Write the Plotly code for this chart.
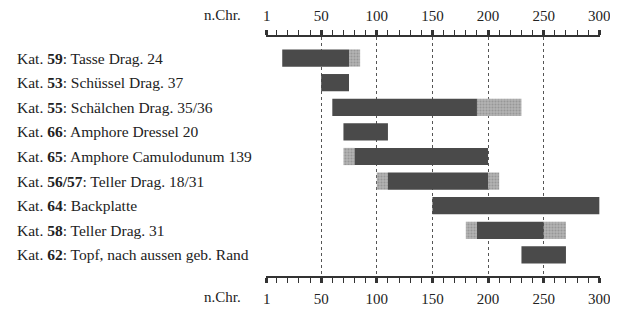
import plotly.graph_objects as go

kat_numbers = ["59", "53", "55", "66", "65", "56/57", "64", "58", "62"]
kat_names = ["Tasse Drag. 24", "Schüssel Drag. 37", "Schälchen Drag. 35/36",
             "Amphore Dressel 20", "Amphore Camulodunum 139", "Teller Drag. 18/31",
             "Backplatte", "Teller Drag. 31", "Topf, nach aussen geb. Rand"]
dark_start = [15, 50, 60, 70, 80, 110, 150, 190, 230]
dark_end = [75, 75, 190, 110, 200, 200, 300, 250, 270]
gray_before_start = [None, None, None, None, 70, 100, None, 180, None]
gray_after_end = [85, None, 230, None, None, 210, None, 270, None]
tick_values = [1, 50, 100, 150, 200, 250, 300]
tick_labels = ["1", "50", "100", "150", "200", "250", "300"]
minor_ticks = [v for v in range(10, 300, 10) if v % 50 != 0]
axis_title = "n.Chr."

cats = [f"Kat. {n}" for n in kat_numbers]
DARK = "#4a4a4a"
LIGHT = "#a6a6a6"
FONT = "Liberation Serif"

fig = go.Figure()

gb_y, gb_base, gb_len = [], [], []
ga_y, ga_base, ga_len = [], [], []
for c, ds, de, gs, ge in zip(cats, dark_start, dark_end, gray_before_start, gray_after_end):
    if gs is not None:
        gb_y.append(c); gb_base.append(gs); gb_len.append(ds - gs)
    if ge is not None:
        ga_y.append(c); ga_base.append(de); ga_len.append(ge - de)

bar_w = 0.7
pat = dict(shape=".", fgcolor="#7a7a7a", bgcolor="#b4b4b4", size=3, solidity=0.4)
fig.add_trace(go.Bar(y=gb_y, x=gb_len, base=gb_base, orientation="h", width=bar_w,
                     marker=dict(color=LIGHT, line=dict(width=0), pattern=pat),
                     showlegend=False))
fig.add_trace(go.Bar(y=ga_y, x=ga_len, base=ga_base, orientation="h", width=bar_w,
                     marker=dict(color=LIGHT, line=dict(width=0), pattern=pat),
                     showlegend=False))
fig.add_trace(go.Bar(y=cats, x=[e - s for s, e in zip(dark_start, dark_end)], base=dark_start,
                     orientation="h", width=bar_w,
                     marker=dict(color=DARK, line=dict(width=0)), showlegend=False))
fig.add_trace(go.Scatter(x=[1, 300], y=[cats[0], cats[0]], xaxis="x2", mode="markers",
                         marker=dict(opacity=0), showlegend=False, hoverinfo="skip"))

x_range = [0.4, 300.6]
axis_common = dict(range=x_range, tickmode="array", tickvals=tick_values, ticktext=tick_labels,
                   ticks="outside", ticklen=5, tickwidth=3, tickcolor="#333",
                   showline=True, linecolor="#333", linewidth=1.5,
                   tickfont=dict(family=FONT, size=15, color="#222"),
                   minor=dict(tickmode="array", tickvals=minor_ticks, ticks="outside",
                              ticklen=5, tickwidth=1, tickcolor="#333", showgrid=False),
                   zeroline=False, fixedrange=True, automargin=False)

# page body has an 8px margin: figure is sized so it fits the 618x309 window
fig.update_layout(
    width=610, height=301,
    margin=dict(l=258, r=18, t=29, b=33, autoexpand=False),
    paper_bgcolor="white", plot_bgcolor="white",
    barmode="overlay",
    xaxis=dict(**axis_common, side="bottom", showgrid=True, gridcolor="#555",
               griddash="dot", gridwidth=1, ticklabelstandoff=3),
    xaxis2=dict(**axis_common, side="top", overlaying="x", showgrid=False, anchor="y",
                ticklabelstandoff=3),
    yaxis=dict(type="category", categoryorder="array", categoryarray=cats,
               range=[8.854, -0.854], showticklabels=False, showgrid=False,
               zeroline=False, showline=False, ticks="", automargin=False),
)

for c, n, name in zip(cats, kat_numbers, kat_names):
    fig.add_annotation(x=-0.7515, xref="paper", y=c, yref="y", xanchor="left",
                       yanchor="middle", showarrow=False,
                       text=f"Kat. <b>{n}</b>: {name}",
                       font=dict(family=FONT, size=15.5, color="#222"))

for yy in [1.0, 0.0]:
    fig.add_annotation(x=-0.069, xref="paper", y=yy, yref="paper", xanchor="right",
                       yanchor="middle", yshift=22 if yy == 1.0 else -21, showarrow=False,
                       text=axis_title, font=dict(family=FONT, size=15, color="#222"))

fig.write_html("out.html")
